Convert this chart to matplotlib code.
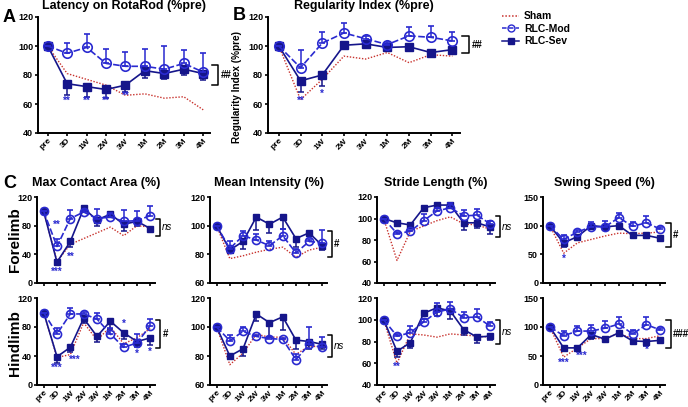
import numpy as np
import matplotlib.pyplot as plt

plt.rcParams['font.family'] = ['Liberation Sans', 'DejaVu Sans']
plt.rcParams['font.weight'] = 'bold'

timepoints = ["pre", "3D", "1W", "2W", "3W", "1M", "2M", "3M", "4M"]

# A: Latency on RotaRod
rota_sham = [100, 81, 77, 73, 66, 67, 64, 65, 56]
rota_mod = [100, 95, 99, 88, 86, 86, 84, 88, 82]
rota_mod_err = [0, 7, 9, 10, 10, 12, 16, 9, 13]
rota_sev = [100, 74, 72, 70, 73, 83, 81, 84, 81]
rota_sev_err = [0, 8, 7, 6, 4.5, 5, 4, 4, 4.5]

# B: Regularity index
reg_sham = [100, 63, 77, 93, 91, 95.5, 88.5, 94, 93]
reg_mod = [100, 85, 102, 109, 105, 101, 107, 106, 103.5]
reg_mod_err = [0, 12, 7.5, 7, 2, 2, 6, 8, 6]
reg_sev = [100, 76, 80, 100.5, 101.5, 99, 99.5, 95.5, 97.5]
reg_sev_err = [0, 8, 7.5, 1, 1.5, 1.5, 1, 1.5, 1.5]

# C forelimb
fmca_sham = [100, 30, 54, 62, 70, 78, 66, 80, 78]
fmca_mod = [100, 51, 90, 99, 90, 92, 86, 87, 94]
fmca_mod_err = [0, 10, 12, 3, 13, 5, 16, 13, 14]
fmca_sev = [100, 29, 58, 104, 88, 96, 82, 86, 76]
fmca_sev_err = [0, 4, 8, 2, 8, 3, 10, 6, 3]

fmi_sham = [100, 77, 79, 81.5, 83.5, 85, 78, 83, 85]
fmi_mod = [100, 84, 93, 90, 86, 93, 81, 89, 88]
fmi_mod_err = [0, 5, 3, 4.5, 3, 5, 3, 2, 9]
fmi_sev = [100, 83, 89, 106, 101, 106, 91, 95, 86]
fmi_sev_err = [0, 2, 5, 9, 6, 8, 6, 2, 3]

fsl_sham = [100, 61, 88, 93, 98, 101.5, 95, 94, 90]
fsl_mod = [100, 86, 88, 98, 107, 110, 102.5, 103, 95]
fsl_mod_err = [0, 1.5, 1.5, 6, 3, 4, 5, 6, 3]
fsl_sev = [100, 96, 94, 110, 112.5, 112.5, 96, 96, 92]
fsl_sev_err = [0, 1.5, 1.5, 2, 2, 2, 7, 5, 6]

fss_sham = [100, 52, 70, 76, 82, 87, 86, 87, 89]
fss_mod = [100, 76, 89, 98, 98, 114, 99, 105, 94]
fss_mod_err = [0, 8, 4, 8, 10, 8, 8, 12, 3]
fss_sev = [100, 70, 81, 100, 98, 100, 83, 83, 78]
fss_sev_err = [0, 8, 4, 3, 3, 3, 3, 3, 3]

# C hindlimb
hmca_sham = [100, 38, 42, 86, 62, 80, 57, 65, 78]
hmca_mod = [100, 70.5, 98, 98, 91, 70.5, 52, 58, 82]
hmca_mod_err = [0, 8, 8, 3, 9, 8, 5, 13, 9]
hmca_sev = [100, 39, 52, 92, 67, 88, 72, 60, 65]
hmca_sev_err = [0, 8, 6, 7, 7, 11, 8, 8, 10]

hmi_sham = [100, 74, 82, 95, 93, 93, 81, 87, 86]
hmi_mod = [100, 90.5, 97, 93.5, 92, 91.5, 77.5, 88, 86]
hmi_mod_err = [0, 4, 3, 1, 1, 1, 4, 12, 7]
hmi_sev = [100, 80, 85, 109, 103, 107, 91, 90, 88]
hmi_sev_err = [0, 1, 5, 5, 10, 9, 6, 5, 3]

hsl_sham = [100, 60, 87, 86, 84, 87, 86, 85, 84]
hsl_mod = [100, 85, 88, 98, 107, 110, 102, 102.5, 94]
hsl_mod_err = [0, 2, 6, 3, 8, 6, 5, 7, 4]
hsl_sev = [100, 71, 79, 106, 111, 108, 91, 84, 85]
hsl_sev_err = [0, 5, 5, 2, 8, 7, 5, 5, 4]

hss_sham = [100, 48, 64, 80, 80, 89, 80, 80, 85]
hss_mod = [100, 85, 93, 93, 98, 105, 88, 104, 95]
hss_mod_err = [0, 8, 8, 10, 12, 13, 7, 14, 4]
hss_sev = [100, 64, 64, 87, 79, 90, 76, 75, 77]
hss_sev_err = [0, 5, 3, 7, 3, 3, 4, 8, 3]

SHAM_C = "#c8322d"
MOD_C = "#2a2ad0"
SEV_C = "#15158a"
W, H = 688, 407


def px(l, t, r, b):
    return [l / W, 1 - b / H, (r - l) / W, (b - t) / H]


def draw(ax, sham, mod, mod_err, sev, sev_err, ylim, yticks, xlabels=True, ms=5):
    x = np.arange(len(timepoints))
    ax.plot(x, sham, color=SHAM_C, ls=(0, (1, 1.2)), lw=1.0, zorder=2)
    ax.errorbar(x, sev, yerr=[sev_err, np.zeros(len(x))], color=SEV_C, lw=1.2,
                marker="s", ms=ms, mfc=SEV_C, mec=SEV_C, capsize=2.5,
                elinewidth=1.1, capthick=1.1, zorder=3)
    ax.errorbar(x, mod, yerr=[np.zeros(len(x)), mod_err], color=MOD_C, lw=1.2,
                ls=(0, (4, 1.5)), marker="o", ms=ms + 0.8, mfc="none",
                mec=MOD_C, mew=1.2, capsize=2.5, elinewidth=1.1, capthick=1.1,
                zorder=4)
    ax.set_xlim(-0.5, 8.35)
    ax.set_ylim(*ylim)
    ax.set_yticks(yticks)
    ax.set_xticks(x)
    ax.spines[["top", "right"]].set_visible(False)
    for s in ["left", "bottom"]:
        ax.spines[s].set_linewidth(1.4)
    ax.tick_params(width=1.2, length=2.5, labelsize=6.5, pad=1)
    ax.tick_params(axis="x", labelsize=6, pad=0.5)
    if xlabels:
        ax.set_xticklabels(timepoints, rotation=45, ha="right",
                           rotation_mode="anchor", fontweight="bold")
    else:
        ax.set_xticklabels([])
    for lab in ax.get_yticklabels():
        lab.set_fontweight("bold")


def bracket(ax, y0, y1, label, italic=False, fs=7):
    x0 = 8.45
    x1 = 8.75
    ax.plot([x0, x1, x1, x0], [y1, y1, y0, y0], color="black", lw=1.1,
            clip_on=False)
    ax.text(x1 + 0.15, (y0 + y1) / 2, label, fontsize=fs, va="center",
            ha="left", style="italic" if italic else "normal",
            fontweight="normal" if italic else "bold")


def stars(ax, items):
    for xi, yi, s in items:
        ax.text(xi, yi, s, color=MOD_C, fontsize=7, ha="center", va="center",
                fontweight="bold")


fig = plt.figure(figsize=(6.88, 4.07), dpi=100)

axA = fig.add_axes(px(38, 17, 210, 133))
draw(axA, rota_sham, rota_mod, rota_mod_err, rota_sev, rota_sev_err,
     (40, 120), [40, 60, 80, 100, 120], ms=6)
bracket(axA, 73, 87, "##")
stars(axA, [(1, 62, "**"), (2, 62, "**"), (3, 62, "**"), (4, 65.5, "**")])
axA.set_title("Latency on RotaRod (%pre)", fontsize=9, fontweight="bold", pad=6)

axB = fig.add_axes(px(268, 17, 460, 133))
draw(axB, reg_sham, reg_mod, reg_mod_err, reg_sev, reg_sev_err,
     (40, 120), [40, 60, 80, 100, 120], ms=6)
bracket(axB, 95, 107, "##")
stars(axB, [(1, 62, "**"), (2, 67, "*")])
axB.set_title("Regularity Index (%pre)", fontsize=9, fontweight="bold", pad=6)
axB.set_ylabel("Regularity Index (%pre)", fontsize=7.2, fontweight="bold", labelpad=1)
axB.yaxis.set_label_coords(-0.135, 0.40)

cols = [(37, 155), (210, 327), (377, 495), (543, 665)]
titles = ["Max Contact Area (%)", "Mean Intensity (%)", "Stride Length (%)", "Swing Speed (%)"]
fore = [
    (fmca_sham, fmca_mod, fmca_mod_err, fmca_sev, fmca_sev_err, (0, 120), [0, 40, 80, 120]),
    (fmi_sham, fmi_mod, fmi_mod_err, fmi_sev, fmi_sev_err, (60, 120), [60, 80, 100, 120]),
    (fsl_sham, fsl_mod, fsl_mod_err, fsl_sev, fsl_sev_err, (40, 120), [40, 60, 80, 100, 120]),
    (fss_sham, fss_mod, fss_mod_err, fss_sev, fss_sev_err, (0, 150), [0, 50, 100, 150]),
]
hind = [
    (hmca_sham, hmca_mod, hmca_mod_err, hmca_sev, hmca_sev_err, (0, 120), [0, 40, 80, 120]),
    (hmi_sham, hmi_mod, hmi_mod_err, hmi_sev, hmi_sev_err, (60, 120), [60, 80, 100, 120]),
    (hsl_sham, hsl_mod, hsl_mod_err, hsl_sev, hsl_sev_err, (40, 120), [40, 60, 80, 100, 120]),
    (hss_sham, hss_mod, hss_mod_err, hss_sev, hss_sev_err, (0, 150), [0, 50, 100, 150]),
]
fore_br = [(66, 89, "ns", True), (78, 96, "#", False), (83, 102, "ns", True), (62, 105, "#", False)]
hind_br = [(51, 90, "#", False), (79, 94.5, "ns", True), (78, 100, "ns", True), (64, 112, "###", False)]
fore_stars = [
    [(1, 81, "**"), (1, 15, "***"), (2, 37, "**")],
    [], [],
    [(1, 43, "*")],
]
hind_stars = [
    [(1, 23, "***"), (2.3, 35, "***"), (6, 85, "*"), (7, 43, "*"), (8, 46, "*")],
    [],
    [(1, 57, "**")],
    [(1, 38, "***"), (2.3, 50, "***"), (7, 61, "*")],
]

for i, (l, r) in enumerate(cols):
    a1 = fig.add_axes(px(l, 197, r, 283))
    d = fore[i]
    draw(a1, *d[:5], d[5], d[6], xlabels=False, ms=5)
    bracket(a1, fore_br[i][0], fore_br[i][1], fore_br[i][2], fore_br[i][3])
    stars(a1, fore_stars[i])
    a1.set_title(titles[i], fontsize=9, fontweight="bold", pad=8)

    a2 = fig.add_axes(px(l, 298, r, 385))
    d = hind[i]
    draw(a2, *d[:5], d[5], d[6], xlabels=True, ms=5)
    bracket(a2, hind_br[i][0], hind_br[i][1], hind_br[i][2], hind_br[i][3])
    stars(a2, hind_stars[i])

fig.text(15 / W, 1 - 240 / H, "Forelimb", rotation=90, fontsize=11,
         fontweight="bold", ha="center", va="center")
fig.text(15 / W, 1 - 343 / H, "Hindlimb", rotation=90, fontsize=11,
         fontweight="bold", ha="center", va="center")
fig.text(3 / W, 1 - 18 / H, "A", fontsize=13, fontweight="bold", va="center")
fig.text(233 / W, 1 - 15 / H, "B", fontsize=13, fontweight="bold", va="center")
fig.text(3 / W, 1 - 183 / H, "C", fontsize=13, fontweight="bold", va="center")

# legend
legend_items = [("Sham", SHAM_C, (0, (1, 1.2)), None, None),
                ("RLC-Mod", MOD_C, (0, (3, 1.5)), "o", "none"),
                ("RLC-Sev", SEV_C, "-", "s", SEV_C)]
handles = []
for name, c, ls, mk, fc in legend_items:
    h, = axB.plot([], [], color=c, ls=ls, marker=mk, mfc=fc, mec=c, ms=5,
                  lw=1.1, label=name)
    handles.append(h)
fig.legend(handles=handles, loc="upper left", bbox_to_anchor=(495 / W, 1 - 4 / H),
           frameon=False, fontsize=7.5, handlelength=1.6, handletextpad=0.5,
           labelspacing=0.25, borderpad=0.2)

fig.savefig("out.png", dpi=100)
